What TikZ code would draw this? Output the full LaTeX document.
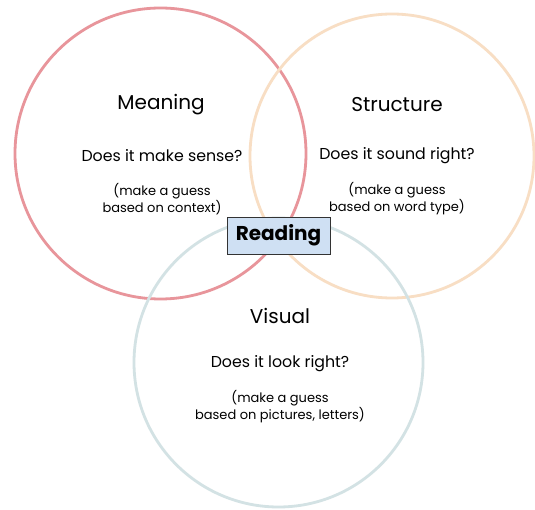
\documentclass[tikz,border=0pt]{standalone}
\usepackage{fontspec}
\setmainfont{Poppins}
\begin{document}
\begin{tikzpicture}[x=1pt,y=-1pt,
  ring/.style={line width=2.8pt},
  title/.style={font=\fontsize{20}{24}\selectfont},
  question/.style={font=\fontsize{15.8}{19}\selectfont},
  hint/.style={font=\fontsize{13}{17}\selectfont, align=center},
  centerbox/.style={draw=black!80, line width=0.8pt, fill=boxblue, inner sep=0pt,
    minimum width=103pt, minimum height=37pt, font=\bfseries\fontsize{20}{24}\selectfont}]
\definecolor{meaningred}{HTML}{E8959B}
\definecolor{structpeach}{HTML}{F8DEC4}
\definecolor{visualblue}{HTML}{D3E2E4}
\definecolor{boxblue}{HTML}{CFE0F3}
\useasboundingbox (0,0) rectangle (535,510);
\fill[white] (0,0) rectangle (535,510);

% the three overlapping circles
\draw[ring, meaningred] (160.5,153.5) circle[radius=145.5];
\draw[ring, structpeach] (392,156) circle[radius=142];
\draw[ring, visualblue] (278.5,362.5) circle[radius=144.5];

% Meaning
\node[title] (meaning) at (161,105) {Meaning};
\node[question] (meaningq) at (162,156) {Does it make sense?};
\node[hint] (meaningh) at (162,199) {(make a guess\\based on context)};

% Structure
\node[title] (structure) at (397,105) {Structure};
\node[question] (structureq) at (397,156) {Does it sound right?};
\node[hint] (structureh) at (397,199) {(make a guess\\based on word type)};

% Visual
\node[title] (visual) at (280,316) {Visual};
\node[question] (visualq) at (280,364) {Does it look right?};
\node[hint] (visualh) at (280,407) {(make a guess\\based on pictures, letters)};

% centre label
\node[centerbox] (reading) at (278.5,235.5) {Reading};
\end{tikzpicture}
\end{document}
